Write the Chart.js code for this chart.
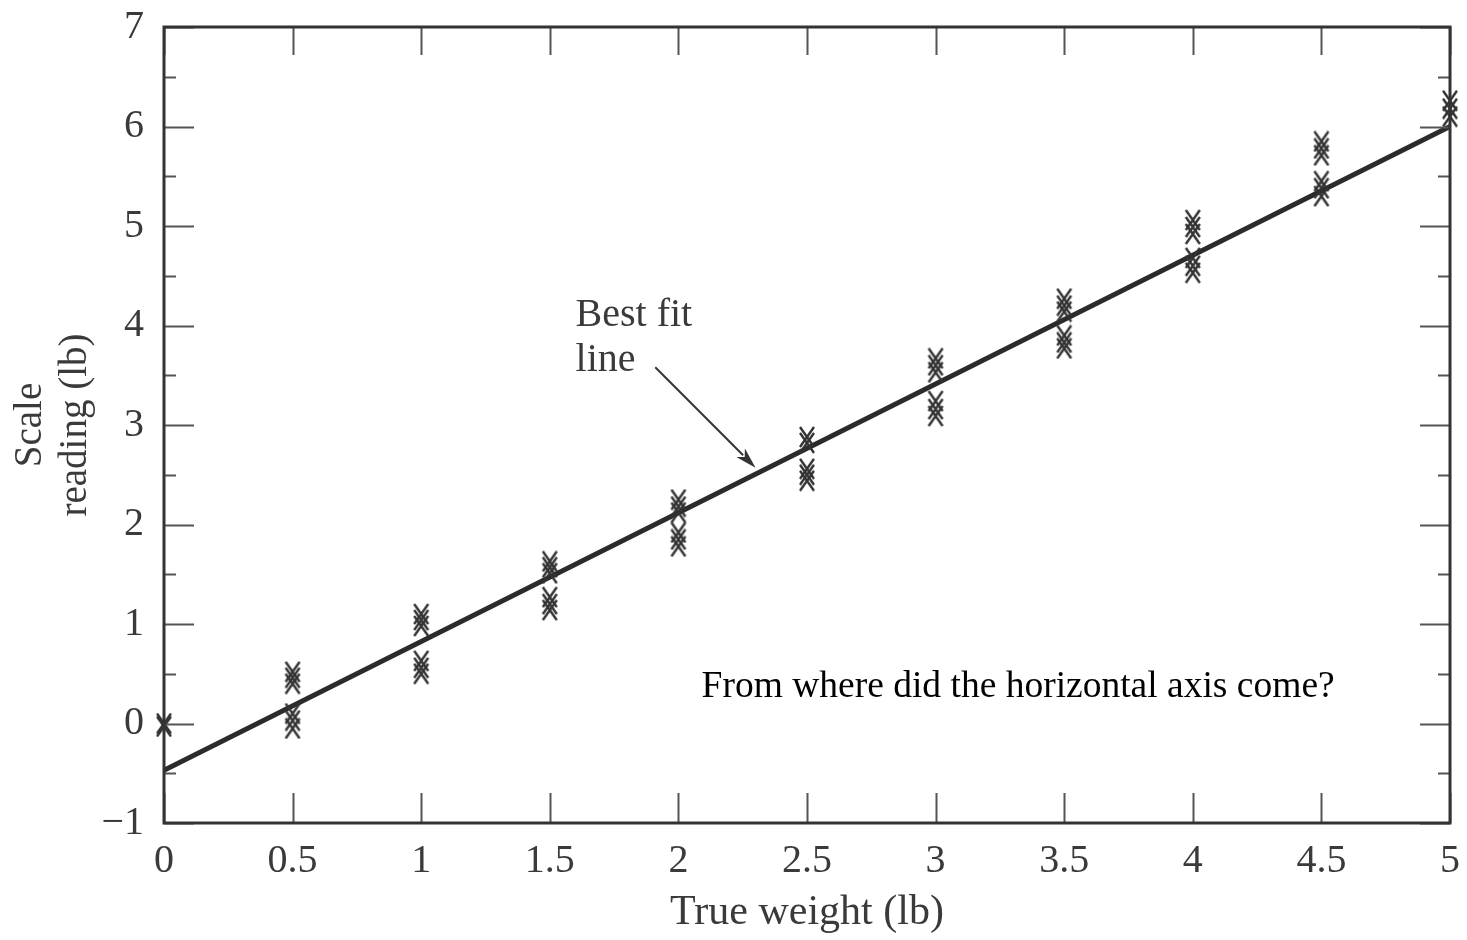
<!DOCTYPE html>
<html>
<head>
<meta charset="utf-8">
<title>Scale reading vs true weight</title>
<script src="https://cdn.jsdelivr.net/npm/chart.js@4.4.1/dist/chart.umd.min.js"></script>
<style>
  html, body { margin: 0; padding: 0; background: #fff; }
  #wrap { width: 1467px; height: 940px; }
</style>
</head>
<body>
<div id="wrap"><canvas id="chart" width="1467" height="940"></canvas></div>
<script>
// --- data ---
const weights = [0, 0.5, 1, 1.5, 2, 2.5, 3, 3.5, 4, 4.5, 5];
const readings = [
    [0.0, -0.03],
    [0.52, 0.46, 0.4, 0.1, 0.03, -0.05],
    [1.1, 1.04, 0.98, 0.63, 0.56, 0.5],
    [1.63, 1.57, 1.51, 1.27, 1.2, 1.14],
    [2.25, 2.18, 2.12, 1.92, 1.85, 1.78],
    [2.88, 2.82, 2.56, 2.5, 2.44],
    [3.67, 3.6, 3.53, 3.24, 3.16, 3.09],
    [4.27, 4.2, 4.14, 3.9, 3.83, 3.77],
    [5.06, 4.99, 4.92, 4.68, 4.6, 4.53],
    [5.85, 5.78, 5.71, 5.45, 5.38, 5.3],
    [6.26, 6.18, 6.1]
];
const fitX = [0, 5];
const fitY = [-0.47, 6.0];
const xTicks = [0, 0.5, 1, 1.5, 2, 2.5, 3, 3.5, 4, 4.5, 5];
const yTicks = [-1, 0, 1, 2, 3, 4, 5, 6, 7];
const yMinorTicks = [-0.5, 0.5, 1.5, 2.5, 3.5, 4.5, 5.5, 6.5];

// annotation anchors, in data units
const arrowFrom = [1.91, 3.58];
const arrowTo = [2.30, 2.57];
const labelBest = { x: 1.6, lines: ['Best fit', 'line'], y: [4.10, 3.65] };
const question = { x: 2.09, y: 0.37, text: 'From where did the horizontal axis come?' };

const INK = '#333';
const SERIF = '"Liberation Serif", "Times New Roman", serif';

// scatter points built from the arrays
const points = [];
weights.forEach((w, i) => readings[i].forEach(r => points.push({ x: w, y: r })));
const fitPoints = fitX.map((x, i) => ({ x: x, y: fitY[i] }));

// tall, narrow "x" marker like the printed figure
function makeCross() {
    const c = document.createElement('canvas');
    c.width = 18; c.height = 22;
    const g = c.getContext('2d');
    g.strokeStyle = INK;
    g.lineWidth = 2.4;
    g.beginPath();
    g.moveTo(2, 1); g.lineTo(16, 21);
    g.moveTo(16, 1); g.lineTo(2, 21);
    g.stroke();
    return c;
}

// no extra room for overflowing tick labels: plot box is fixed by layout padding
function noLabelPadding(s) {
    s.paddingTop = 0; s.paddingBottom = 0;
    s.paddingLeft = 0; s.paddingRight = 0;
}

// frame with inward ticks on all four sides, plus arrow and texts
const framePlugin = {
    id: 'frame',
    afterDatasetsDraw(chart) {
        const ctx = chart.ctx;
        const a = chart.chartArea;
        const xs = chart.scales.x, ys = chart.scales.y;
        ctx.save();

        // ticks
        ctx.strokeStyle = '#555';
        ctx.lineWidth = 2;
        ctx.beginPath();
        xTicks.forEach(t => {
            const px = Math.round(xs.getPixelForValue(t)) + 0.5;
            ctx.moveTo(px, a.bottom); ctx.lineTo(px, a.bottom - 30);
            ctx.moveTo(px, a.top); ctx.lineTo(px, a.top + 28);
        });
        yTicks.forEach(t => {
            const py = Math.round(ys.getPixelForValue(t)) + 0.5;
            ctx.moveTo(a.left, py); ctx.lineTo(a.left + 30, py);
            ctx.moveTo(a.right, py); ctx.lineTo(a.right - 30, py);
        });
        yMinorTicks.forEach(t => {
            const py = Math.round(ys.getPixelForValue(t)) + 0.5;
            ctx.moveTo(a.left, py); ctx.lineTo(a.left + 12, py);
            ctx.moveTo(a.right, py); ctx.lineTo(a.right - 12, py);
        });
        ctx.stroke();

        // frame
        ctx.strokeStyle = INK;
        ctx.lineWidth = 3;
        ctx.strokeRect(a.left, a.top, a.right - a.left, a.bottom - a.top);

        // arrow
        const x0 = xs.getPixelForValue(arrowFrom[0]), y0 = ys.getPixelForValue(arrowFrom[1]);
        const x1 = xs.getPixelForValue(arrowTo[0]), y1 = ys.getPixelForValue(arrowTo[1]);
        const ang = Math.atan2(y1 - y0, x1 - x0);
        const head = 22;
        ctx.strokeStyle = INK;
        ctx.lineWidth = 2;
        ctx.beginPath();
        ctx.moveTo(x0, y0);
        ctx.lineTo(x1 - Math.cos(ang) * head * 0.8, y1 - Math.sin(ang) * head * 0.8);
        ctx.stroke();
        ctx.fillStyle = INK;
        ctx.beginPath();
        ctx.moveTo(x1, y1);
        ctx.lineTo(x1 - head * Math.cos(ang - 0.28), y1 - head * Math.sin(ang - 0.28));
        ctx.lineTo(x1 - head * 0.7 * Math.cos(ang), y1 - head * 0.7 * Math.sin(ang));
        ctx.lineTo(x1 - head * Math.cos(ang + 0.28), y1 - head * Math.sin(ang + 0.28));
        ctx.closePath();
        ctx.fill();

        // texts
        ctx.textBaseline = 'middle';
        ctx.textAlign = 'left';
        ctx.fillStyle = '#3a3a3a';
        ctx.font = '40px ' + SERIF;
        labelBest.lines.forEach((s, i) => {
            ctx.fillText(s, xs.getPixelForValue(labelBest.x), ys.getPixelForValue(labelBest.y[i]));
        });
        ctx.fillStyle = '#000';
        ctx.font = '37.5px ' + SERIF;
        ctx.fillText(question.text, xs.getPixelForValue(question.x), ys.getPixelForValue(question.y));
        ctx.restore();
    }
};

const ctx = document.getElementById('chart').getContext('2d');
const chart = new Chart(ctx, {
    type: 'scatter',
    data: {
        datasets: [
            {
                label: 'Best fit line',
                type: 'line',
                data: fitPoints,
                borderColor: '#2b2b2b',
                borderWidth: 5,
                pointRadius: 0,
                fill: false,
                order: 2
            },
            {
                label: 'Readings',
                data: points,
                pointStyle: makeCross(),
                pointRadius: 10,
                clip: false,
                order: 1
            }
        ]
    },
    options: {
        responsive: false,
        animation: false,
        devicePixelRatio: 1,
        layout: { padding: { top: 27, right: 17, left: 0, bottom: 0 } },
        plugins: {
            legend: { display: false },
            tooltip: { enabled: false }
        },
        scales: {
            x: {
                type: 'linear',
                min: 0, max: 5,
                afterFit: s => { s.height = 117; noLabelPadding(s); },
                afterBuildTicks: s => { s.ticks = xTicks.map(v => ({ value: v })); },
                grid: { display: false, drawTicks: false },
                border: { display: false },
                ticks: {
                    color: '#3a3a3a',
                    padding: 14,
                    maxRotation: 0,
                    font: { family: SERIF, size: 40 },
                    callback: v => String(v)
                },
                title: {
                    display: true,
                    text: 'True weight (lb)',
                    color: '#3a3a3a',
                    padding: 4,
                    font: { family: SERIF, size: 42, lineHeight: 1.1 }
                }
            },
            y: {
                type: 'linear',
                min: -1, max: 7,
                afterFit: s => { s.width = 164; noLabelPadding(s); },
                afterBuildTicks: s => { s.ticks = yTicks.map(v => ({ value: v })); },
                grid: { display: false, drawTicks: false },
                border: { display: false },
                ticks: {
                    color: '#3a3a3a',
                    padding: 20,
                    font: { family: SERIF, size: 40 },
                    callback: v => String(v).replace('-', '\u2212')
                },
                title: {
                    display: true,
                    text: ['Scale', 'reading (lb)'],
                    color: '#3a3a3a',
                    padding: { top: 8, bottom: 0 },
                    font: { family: SERIF, size: 39, lineHeight: 1.15 }
                }
            }
        }
    },
    plugins: [framePlugin]
});
</script>
</body>
</html>
